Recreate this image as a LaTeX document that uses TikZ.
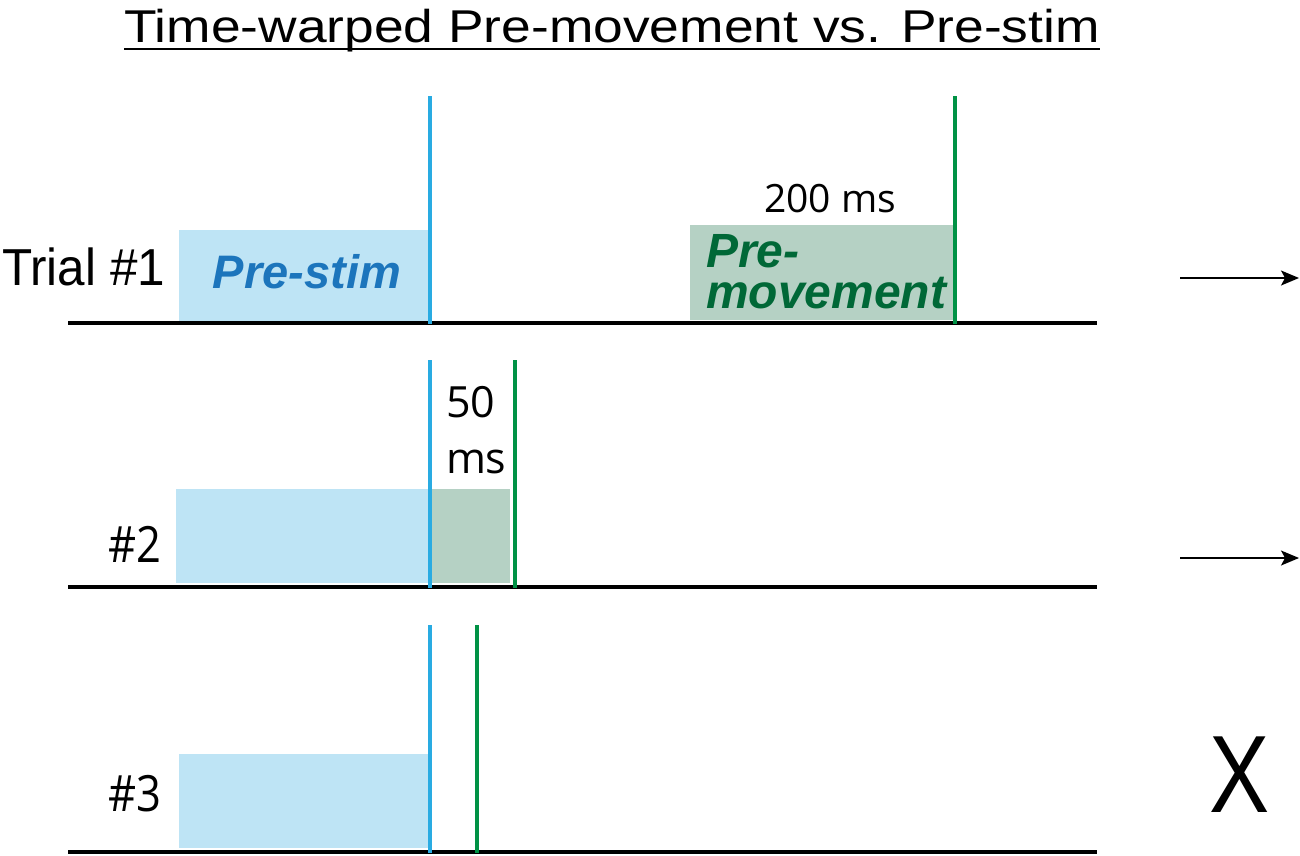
\documentclass[tikz,border=0pt]{standalone}
\usepackage{fontspec}
\usepackage{graphicx}
\setmainfont{Liberation Sans}
\newfontfamily\numfont{Open Sans}
\usetikzlibrary{arrows.meta}
\definecolor{cueblue}{HTML}{29ABE2}
\definecolor{boxblue}{HTML}{BEE4F5}
\definecolor{movegreen}{HTML}{009245}
\definecolor{boxgreen}{HTML}{B5D1C4}
\definecolor{stimtext}{HTML}{1C75BC}
\definecolor{movetext}{HTML}{006837}
\tikzset{
  stimline/.style={cueblue, line width=3.3pt},
  moveline/.style={movegreen, line width=3.3pt},
  trialline/.style={black, line width=4pt},
  txt/.style={inner sep=0pt, outer sep=0pt},
  epochtxt/.style={txt, font=\fontsize{47}{41}\selectfont\bfseries\itshape},
  numtxt/.style={txt, font=\numfont\fontsize{43}{56}\selectfont},
  gonext/.style={-{Stealth[length=18pt,width=15pt,inset=4pt]}, line width=1.5pt},
}
\begin{document}
\begin{tikzpicture}[x=1pt, y=-1pt]
    \useasboundingbox (0,0) rectangle (1300,855);
    \node[txt, anchor=base, font=\fontsize{46}{50}\selectfont] (title) at (612,42)
        {\scalebox{1.16}[1]{Time-warped Pre-movement vs. Pre-stim}};
    \draw[line width=2.8pt] ([yshift=-7pt]title.base west) -- ([yshift=-7pt]title.base east);
    \fill[boxblue] (179,230) rectangle (430,323);
    \fill[boxgreen] (690,225) rectangle (954,320);
    \fill[boxblue] (176,489) rectangle (430,583);
    \fill[boxgreen] (432,489) rectangle (510,583);
    \fill[boxblue] (179,754) rectangle (430,848);
    \foreach \y in {323,587,852}
        \draw[trialline] (68,\y) -- (1097,\y);
    \draw[stimline] (430,96) -- (430,324);
    \draw[moveline] (955,96) -- (955,324);
    \draw[stimline] (430,360) -- (430,588);
    \draw[moveline] (515,360) -- (515,588);
    \draw[stimline] (430,625) -- (430,853);
    \draw[moveline] (477,625) -- (477,853);
    \node[txt, anchor=base east, font=\fontsize{52}{56}\selectfont] (trial1) at (165,285)
        {\scalebox{0.95}[1]{Trial \#1}};
    \node[epochtxt, anchor=base, stimtext] (prestim) at (307,288) {Pre-stim};
    \node[epochtxt, anchor=base west, movetext, align=left, font=\fontsize{48}{41}\selectfont\bfseries\itshape]
        (premove) at (706,308) {Pre-\\movement};
    \node[numtxt, anchor=base, font=\numfont\fontsize{39}{44}\selectfont] (ms200) at (830,212) {200 ms};
    \node[numtxt, anchor=base west, align=left] (ms50) at (446,473) {50\\ms};
    \node[numtxt, anchor=base east, font=\numfont\fontsize{50}{56}\selectfont] (trial2) at (161,562)
        {\scalebox{0.87}[1]{\#2}};
    \node[numtxt, anchor=base east, font=\numfont\fontsize{50}{56}\selectfont] (trial3) at (161,811)
        {\scalebox{0.87}[1]{\#3}};
    \node[txt, anchor=base, font=\fontsize{110}{120}\selectfont] (nogo) at (1240,812)
        {\scalebox{0.82}[1]{X}};
    \coordinate (go1) at (1180,278);
    \coordinate (go1e) at (1299,278);
    \coordinate (go2) at (1180,558);
    \coordinate (go2e) at (1299,558);
    \draw[gonext] (go1) -- (go1e);
    \draw[gonext] (go2) -- (go2e);
\end{tikzpicture}
\end{document}
